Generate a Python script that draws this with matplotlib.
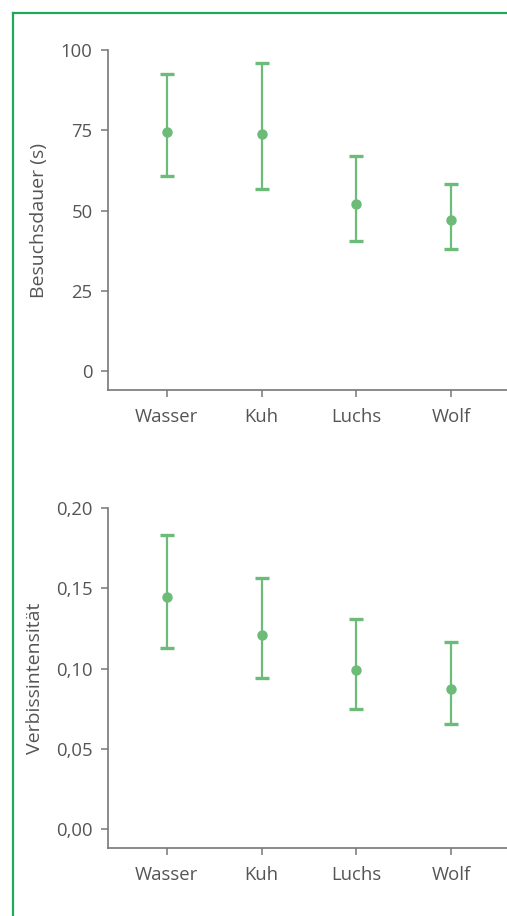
import matplotlib
matplotlib.use("Agg")
import matplotlib.pyplot as plt
from matplotlib.lines import Line2D

categories = ["Wasser", "Kuh", "Luchs", "Wolf"]

dauer_mean = [74.5, 73.7, 52.0, 47.0]
dauer_low = [60.6, 56.6, 40.4, 37.9]
dauer_high = [92.4, 95.8, 66.9, 58.2]

verbiss_mean = [0.1445, 0.1212, 0.0990, 0.0871]
verbiss_low = [0.1127, 0.0940, 0.0747, 0.0653]
verbiss_high = [0.1832, 0.1563, 0.1308, 0.1164]

dauer_ticks = [0, 25, 50, 75, 100]
dauer_ticklabels = ["0", "25", "50", "75", "100"]
verbiss_ticks = [0.0, 0.05, 0.10, 0.15, 0.20]
verbiss_ticklabels = ["0,00", "0,05", "0,10", "0,15", "0,20"]

GREEN = "#6cbb79"
AXIS = "#777777"
TEXT = "#555555"
FRAME = "#22a85c"

plt.rcParams["font.family"] = ["Open Sans", "DejaVu Sans"]

W, H = 507, 916
fig = plt.figure(figsize=(W / 100, H / 100), dpi=100)

def frac_box(left, top, right, bottom):
    return [left / W, 1 - bottom / H, (right - left) / W, (bottom - top) / H]

ax1 = fig.add_axes(frac_box(108, 50, 507, 390))
ax2 = fig.add_axes(frac_box(108, 508.3, 507, 848.3))

def draw(ax, mean, low, high, ticks, ticklabels, ylim, ylabel):
    x = list(range(len(categories)))
    yerr = [[m - l for m, l in zip(mean, low)], [h - m for m, h in zip(mean, high)]]
    ax.errorbar(x, mean, yerr=yerr, fmt="none", ecolor=GREEN,
                elinewidth=1.6, capsize=5, capthick=2.4,
                clip_on=False, zorder=3)
    ax.plot(x, mean, "o", color=GREEN, markersize=7.5, markeredgewidth=0,
            clip_on=False, zorder=4)
    ax.set_xlim(-0.62, 3.59)
    ax.set_ylim(*ylim)
    ax.set_xticks(x)
    ax.set_xticklabels(categories)
    ax.set_yticks(ticks)
    ax.set_yticklabels(ticklabels)
    for s in ["top", "right"]:
        ax.spines[s].set_visible(False)
    for s in ["left", "bottom"]:
        ax.spines[s].set_color(AXIS)
        ax.spines[s].set_linewidth(1.2)
    ax.tick_params(axis="both", colors=AXIS, labelcolor=TEXT, labelsize=13.3,
                   length=5, width=1.1)
    ax.tick_params(axis="x", pad=8)
    ax.tick_params(axis="y", pad=6)
    ax.set_ylabel(ylabel, color=TEXT, fontsize=14, labelpad=9)

draw(ax1, dauer_mean, dauer_low, dauer_high, dauer_ticks, dauer_ticklabels,
     (-5.9, 100), "Besuchsdauer (s)")
draw(ax2, verbiss_mean, verbiss_low, verbiss_high, verbiss_ticks, verbiss_ticklabels,
     (-0.012, 0.20), "Verbissintensität")

# green frame (top and left edges)
fig.add_artist(Line2D([12.7 / W, 12.7 / W], [0, 1 - 12.5 / H], color=FRAME,
                      linewidth=1.6, transform=fig.transFigure))
fig.add_artist(Line2D([12.7 / W, 1], [1 - 12.5 / H, 1 - 12.5 / H], color=FRAME,
                      linewidth=1.6, transform=fig.transFigure))

fig.savefig("out.png", dpi=100)
